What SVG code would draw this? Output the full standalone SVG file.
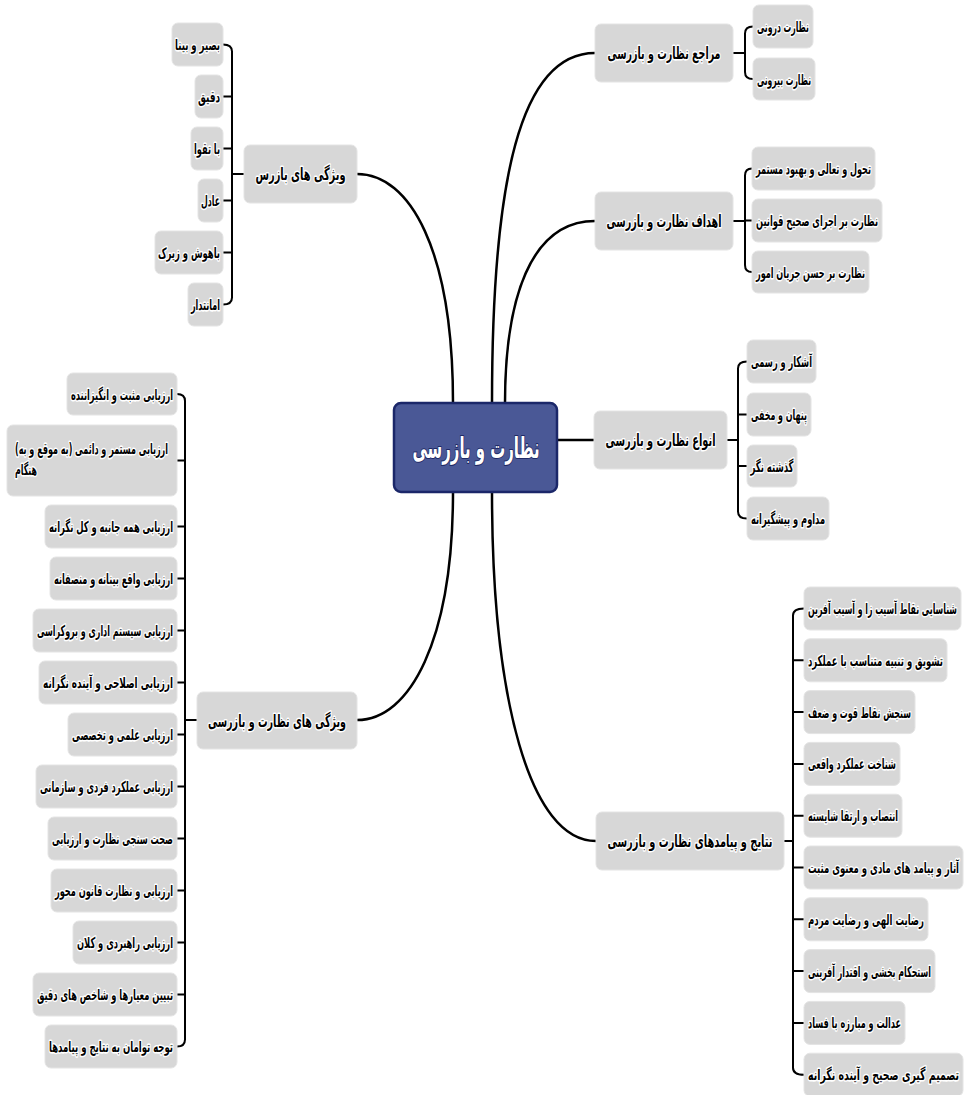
<svg xmlns="http://www.w3.org/2000/svg" width="965" height="1095" viewBox="0 0 965 1095">
<style>
.b{fill:#d7d7d7;stroke:#e4e4e4;stroke-width:1}
.t{font-family:"DejaVu Sans Condensed","DejaVu Sans",sans-serif;font-weight:bold;font-size:15px;fill:#000;stroke:#fff;stroke-width:3;stroke-linejoin:round;paint-order:stroke;text-anchor:middle;direction:rtl}
.p{font-size:17px}
.c{fill:none;stroke:#000;stroke-width:2.5;stroke-linecap:round}
.k{fill:none;stroke:#000;stroke-width:2;stroke-linecap:round}
</style>
<rect width="965" height="1095" fill="#fff"/>
<g id="connectors">
<path class="c" d="M492,403 C492,180 520,53 595,53"/>
<path class="c" d="M505,403 C505,300 530,221 595,221"/>
<path class="c" d="M557,440 H594"/>
<path class="c" d="M492,492 C492,700 530,841 596,841"/>
<path class="c" d="M453,403 C453,250 410,174 357,174"/>
<path class="c" d="M453,492 C453,640 410,720 357,720"/>
<path class="k" d="M733,53 H745 M753,26.5 Q745,26.5 745,33.5 V72 Q745,79 753,79"/>
<path class="k" d="M733,221 H745 M752,168.5 Q745,168.5 745,175.5 V265 Q745,272 752,272 M745,220.5 H752"/>
<path class="k" d="M727,440 H738 M747,361.5 Q738,361.5 738,368.5 V511.5 Q738,518.5 747,518.5 M738,414.5 H747 M738,466 H747"/>
<path class="k" d="M784,841 H793 M804,608.5 Q793,608.5 793,615.5 V1067.7 Q793,1074.7 804,1074.7 M793,660.3 H804 M793,712.1 H804 M793,763.9 H804 M793,815.7 H804 M793,867.5 H804 M793,919.3 H804 M793,971.1 H804 M793,1022.9 H804"/>
<path class="k" d="M244,174 H232 M223,44.5 Q232,44.5 232,51.5 V297.5 Q232,304.5 223,304.5 M232,96.5 H223 M232,148.5 H223 M232,200.5 H223 M232,252.5 H223"/>
<path class="k" d="M197,720 H185 M177,394 Q185,394 185,401 V1039.5 Q185,1046.5 177,1046.5 M185,460.5 H177 M185,526.5 H177 M185,578.5 H177 M185,630.5 H177 M185,682.5 H177 M185,734.5 H177 M185,786.5 H177 M185,838.5 H177 M185,890.5 H177 M185,942.5 H177 M185,994.5 H177"/>
</g>
<g id="center">
<rect x="394" y="403" width="163" height="89" rx="7" fill="#4a5896" stroke="#1b2769" stroke-width="2.5"/>
<text x="476" y="458" text-anchor="middle" direction="rtl" font-family="DejaVu Sans Condensed, DejaVu Sans, sans-serif" font-weight="bold" font-size="29" fill="#fff" stroke="#1f2a66" stroke-width="2" paint-order="stroke" textLength="127" lengthAdjust="spacingAndGlyphs">نظارت و بازرسی</text>
</g>
<g id="r1"><rect class="b" x="595" y="24" width="138" height="58" rx="6"/><text class="t p" x="664" y="59" textLength="113" lengthAdjust="spacingAndGlyphs">مراجع نظارت و بازرسی</text></g>
<g id="r1a"><rect class="b" x="753" y="5" width="60" height="43" rx="6"/><text class="t" x="783" y="32" textLength="52" lengthAdjust="spacingAndGlyphs">نظارت درونی</text></g>
<g id="r1b"><rect class="b" x="753" y="58" width="62" height="42" rx="6"/><text class="t" x="784" y="85" textLength="54" lengthAdjust="spacingAndGlyphs">نظارت بیرونی</text></g>
<g id="r2"><rect class="b" x="595" y="192" width="138" height="58" rx="6"/><text class="t p" x="664" y="227" textLength="115" lengthAdjust="spacingAndGlyphs">اهداف نظارت و بازرسی</text></g>
<g id="r2a"><rect class="b" x="752" y="147" width="123" height="43" rx="6"/><text class="t" x="813.5" y="174" textLength="115" lengthAdjust="spacingAndGlyphs">تحول و تعالی و بهبود مستمر</text></g>
<g id="r2b"><rect class="b" x="752" y="199" width="130" height="43" rx="6"/><text class="t" x="817" y="226" textLength="122" lengthAdjust="spacingAndGlyphs">نظارت بر اجرای صحیح قوانین</text></g>
<g id="r2c"><rect class="b" x="752" y="251" width="117" height="42" rx="6"/><text class="t" x="810.5" y="278" textLength="109" lengthAdjust="spacingAndGlyphs">نظارت بر حسن جریان امور</text></g>
<g id="r3"><rect class="b" x="594" y="411" width="133" height="58" rx="6"/><text class="t p" x="660.5" y="446" textLength="110" lengthAdjust="spacingAndGlyphs">انواع نظارت و بازرسی</text></g>
<g id="r3a"><rect class="b" x="747" y="340" width="69" height="43" rx="6"/><text class="t" x="781.5" y="367" textLength="61" lengthAdjust="spacingAndGlyphs">آشکار و رسمی</text></g>
<g id="r3b"><rect class="b" x="747" y="393" width="64" height="43" rx="6"/><text class="t" x="779" y="420" textLength="56" lengthAdjust="spacingAndGlyphs">پنهان و مخفی</text></g>
<g id="r3c"><rect class="b" x="747" y="445" width="50" height="42" rx="6"/><text class="t" x="772" y="472" textLength="43" lengthAdjust="spacingAndGlyphs">گذشته نگر</text></g>
<g id="r3d"><rect class="b" x="747" y="497" width="82" height="43" rx="6"/><text class="t" x="788" y="524" textLength="74" lengthAdjust="spacingAndGlyphs">مداوم و پیشگیرانه</text></g>
<g id="r4"><rect class="b" x="596" y="812" width="188" height="58" rx="6"/><text class="t p" x="690" y="847" textLength="165" lengthAdjust="spacingAndGlyphs">نتایج و پیامدهای نظارت و بازرسی</text></g>
<g id="r4a"><rect class="b" x="804" y="587" width="157" height="43" rx="6"/><text class="t" x="882.5" y="614" textLength="149" lengthAdjust="spacingAndGlyphs">شناسایی نقاط آسیب زا و آسیب آفرین</text></g>
<g id="r4b"><rect class="b" x="804" y="638.8" width="143" height="43" rx="6"/><text class="t" x="875.5" y="665.8" textLength="135" lengthAdjust="spacingAndGlyphs">تشویق و تنبیه متناسب با عملکرد</text></g>
<g id="r4c"><rect class="b" x="804" y="690.6" width="111" height="43" rx="6"/><text class="t" x="859.5" y="717.6" textLength="103" lengthAdjust="spacingAndGlyphs">سنجش نقاط قوت و ضعف</text></g>
<g id="r4d"><rect class="b" x="804" y="742.4" width="96" height="43" rx="6"/><text class="t" x="852" y="769.4" textLength="88" lengthAdjust="spacingAndGlyphs">شناخت عملکرد واقعی</text></g>
<g id="r4e"><rect class="b" x="804" y="794.2" width="98" height="43" rx="6"/><text class="t" x="853" y="821.2" textLength="90" lengthAdjust="spacingAndGlyphs">انتصاب و ارتقا شایسته</text></g>
<g id="r4f"><rect class="b" x="804" y="846" width="159" height="43" rx="6"/><text class="t" x="883.5" y="873" textLength="151" lengthAdjust="spacingAndGlyphs">آثار و پیامد های مادی و معنوی مثبت</text></g>
<g id="r4g"><rect class="b" x="804" y="897.8" width="124" height="43" rx="6"/><text class="t" x="866" y="924.8" textLength="116" lengthAdjust="spacingAndGlyphs">رضایت الهی  و رضایت مردم</text></g>
<g id="r4h"><rect class="b" x="804" y="949.6" width="131" height="43" rx="6"/><text class="t" x="869.5" y="976.6" textLength="123" lengthAdjust="spacingAndGlyphs">استحکام بخشی و اقتدار آفرینی</text></g>
<g id="r4i"><rect class="b" x="804" y="1001.4" width="101" height="43" rx="6"/><text class="t" x="854.5" y="1028.4" textLength="93" lengthAdjust="spacingAndGlyphs">عدالت و مبارزه با فساد</text></g>
<g id="r4j"><rect class="b" x="804" y="1053.2" width="159" height="43" rx="6"/><text class="t" x="883.5" y="1080.2" textLength="151" lengthAdjust="spacingAndGlyphs">تصمیم گیری صحیح و آینده نگرانه</text></g>
<g id="l1"><rect class="b" x="244" y="145" width="113" height="58" rx="6"/><text class="t p" x="300.5" y="180" textLength="90" lengthAdjust="spacingAndGlyphs">ویژگی های بازرس</text></g>
<g id="l1a"><rect class="b" x="172" y="23" width="51" height="43" rx="6"/><text class="t" x="197.5" y="50" textLength="45" lengthAdjust="spacingAndGlyphs">بصیر و بینا</text></g>
<g id="l1b"><rect class="b" x="195" y="75" width="28" height="43" rx="6"/><text class="t" x="209" y="102" textLength="22" lengthAdjust="spacingAndGlyphs">دقیق</text></g>
<g id="l1c"><rect class="b" x="191" y="127" width="32" height="43" rx="6"/><text class="t" x="207" y="154" textLength="26" lengthAdjust="spacingAndGlyphs">با تقوا</text></g>
<g id="l1d"><rect class="b" x="198" y="179" width="25" height="43" rx="6"/><text class="t" x="210.5" y="206" textLength="19" lengthAdjust="spacingAndGlyphs">عادل</text></g>
<g id="l1e"><rect class="b" x="155" y="231" width="68" height="43" rx="6"/><text class="t" x="189" y="258" textLength="62" lengthAdjust="spacingAndGlyphs">باهوش و زیرک</text></g>
<g id="l1f"><rect class="b" x="188" y="283" width="35" height="43" rx="6"/><text class="t" x="205.5" y="310" textLength="29" lengthAdjust="spacingAndGlyphs">امانتدار</text></g>
<g id="l2"><rect class="b" x="197" y="692" width="160" height="57" rx="6"/><text class="t p" x="277" y="726.5" textLength="138" lengthAdjust="spacingAndGlyphs">ویژگی های نظارت و بازرسی</text></g>
<g id="l2a"><rect class="b" x="67" y="373" width="110" height="42" rx="6"/><text class="t" x="122" y="400" textLength="102" lengthAdjust="spacingAndGlyphs">ارزیابی مثبت و انگیزاننده</text></g>
<g id="l2b"><rect class="b" x="7" y="425" width="170" height="71" rx="6"/><text class="t" x="91.5" y="454" textLength="153" lengthAdjust="spacingAndGlyphs">ارزیابی مستمر و دائمی (به موقع و به)</text><text class="t" x="26" y="475" textLength="22" lengthAdjust="spacingAndGlyphs">هنگام</text></g>
<g id="l2c"><rect class="b" x="45" y="505" width="132" height="43" rx="6"/><text class="t" x="111" y="532" textLength="124" lengthAdjust="spacingAndGlyphs">ارزیابی همه جانبه و کل نگرانه</text></g>
<g id="l2d"><rect class="b" x="50" y="557" width="127" height="43" rx="6"/><text class="t" x="113.5" y="584" textLength="119" lengthAdjust="spacingAndGlyphs">ارزیابی واقع بینانه و منصفانه</text></g>
<g id="l2e"><rect class="b" x="33" y="609" width="144" height="43" rx="6"/><text class="t" x="105" y="636" textLength="136" lengthAdjust="spacingAndGlyphs">ارزیابی سیستم اداری و بروکراسی</text></g>
<g id="l2f"><rect class="b" x="39" y="661" width="138" height="43" rx="6"/><text class="t" x="108" y="688" textLength="130" lengthAdjust="spacingAndGlyphs">ارزیابی اصلاحی و آینده نگرانه</text></g>
<g id="l2g"><rect class="b" x="68" y="713" width="109" height="43" rx="6"/><text class="t" x="122.5" y="740" textLength="101" lengthAdjust="spacingAndGlyphs">ارزیابی علمی و تخصصی</text></g>
<g id="l2h"><rect class="b" x="36" y="765" width="141" height="43" rx="6"/><text class="t" x="106.5" y="792" textLength="133" lengthAdjust="spacingAndGlyphs">ارزیابی عملکرد فردی و سازمانی</text></g>
<g id="l2i"><rect class="b" x="48" y="817" width="129" height="43" rx="6"/><text class="t" x="112.5" y="844" textLength="121" lengthAdjust="spacingAndGlyphs">صحت سنجی نظارت و ارزیابی</text></g>
<g id="l2j"><rect class="b" x="51" y="869" width="126" height="43" rx="6"/><text class="t" x="114" y="896" textLength="118" lengthAdjust="spacingAndGlyphs">ارزیابی و نظارت قانون محور</text></g>
<g id="l2k"><rect class="b" x="73" y="921" width="104" height="43" rx="6"/><text class="t" x="125" y="948" textLength="96" lengthAdjust="spacingAndGlyphs">ارزیابی راهبردی و کلان</text></g>
<g id="l2l"><rect class="b" x="33" y="973" width="144" height="43" rx="6"/><text class="t" x="105" y="1000" textLength="136" lengthAdjust="spacingAndGlyphs">تبیین معیارها و شاخص های دقیق</text></g>
<g id="l2m"><rect class="b" x="45" y="1025" width="132" height="43" rx="6"/><text class="t" x="111" y="1052" textLength="124" lengthAdjust="spacingAndGlyphs">توجه توامان به نتایج و پیامدها</text></g>
</svg>
